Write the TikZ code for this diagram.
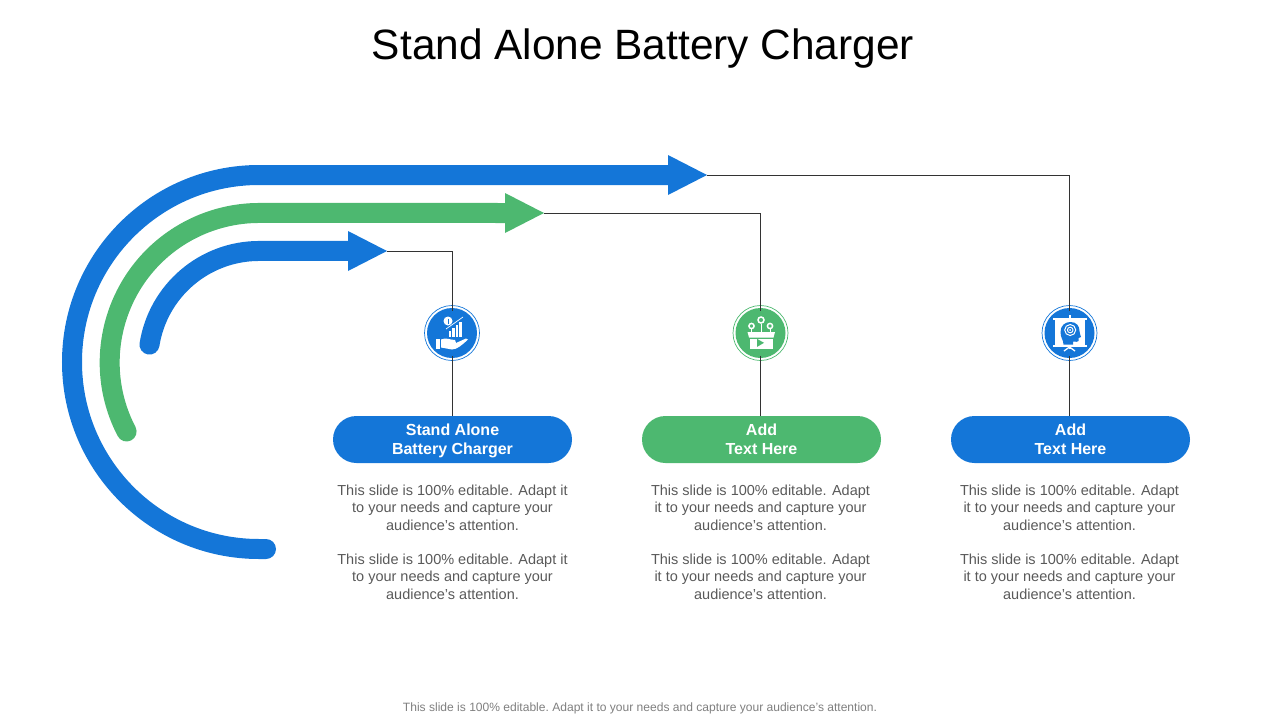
\documentclass[tikz,border=0pt]{standalone}
\usepackage{fontspec}
\setmainfont{Liberation Sans}
\usetikzlibrary{positioning}
\definecolor{chargerBlue}{RGB}{20,118,216}
\definecolor{chargerGreen}{RGB}{77,184,112}
\definecolor{bodyGray}{RGB}{89,89,89}
\definecolor{footGray}{RGB}{127,127,127}
\tikzstyle{slide} = [x = 1pt, y = -1pt, every node/.style={inner sep = 0pt, outer sep = 0pt}]
\tikzstyle{bandLine} = [line width = 20pt, line cap = round]
\tikzstyle{connectLine} = [color=black!80, line width = .7pt]
\tikzstyle{pillStyle} = [minimum width = 239pt, minimum height = 47pt, rounded corners = 23.5pt, text=white, align=center, font=\fontsize{16}{19}\selectfont\bfseries]
\tikzstyle{badgeStyle} = [circle, minimum size = 50pt, text=white]
\tikzstyle{bodyText} = [align=center, text=bodyGray, font=\fontsize{14.5}{17.4}\selectfont]
\newcommand{\bandHead}[3]{\fill [#3] (#1 - 39, #2 - 20) -- (#1, #2) -- (#1 - 39, #2 + 20) -- cycle;}
\newcommand{\badgeRing}[2]{\draw [#2, line width = .7pt] (#1) circle (27.5);}
\newcommand{\pillLabel}[2]{\rule{0pt}{14.6pt}#1\\#2\rule[-3.5pt]{0pt}{1pt}}
% icons are drawn around the centre of the badge
\newcommand{\iconHand}[2]{
  \begin{scope}[shift={(#1)}, white]
    \fill (-4,-12) circle (4.5);
    \draw [#2, line width = .8pt] (-4,-14.5) -- (-4,-9.5);
    \foreach \barX/\barTop in {-2/-2, 1.5/-5, 5/-8, 8.5/-11} {
      \fill (\barX - 1.4, \barTop) rectangle (\barX + 1.4, 4);
    }
    \draw [line width = .7pt] (-6,-4) -- (11,-16);
    \fill (-16,5.5) rectangle (-12,16);
    \fill (-11,6.5) .. controls (-6,4) and (-2,7) .. (3,7) -- (4,10) -- (14,5.5) -- (16,6.5) .. controls (10,12) and (5,16.5) .. (0,16.5) -- (-11,14.5) -- cycle;
  \end{scope}
}
\newcommand{\iconBox}[2]{
  \begin{scope}[shift={(#1)}, white]
    \draw [line width = 1pt] (.5,-9) -- (.5,-1);
    \draw [line width = 1pt] (-9,-4) -- (-9,-1) (9.5,-4) -- (9.5,-1);
    \draw [line width = 1.5pt] (.5,-13) circle (3);
    \draw [line width = 1.5pt] (-9,-7) circle (2.6);
    \draw [line width = 1.5pt] (9.5,-7) circle (2.6);
    \fill (-13,-1) -- (14.5,-1) -- (13,4.5) -- (-11.5,4.5) -- cycle;
    \fill (-10.5,5.5) rectangle (12.5,15.5);
    \fill [#2] (-3.3,6) -- (3.5,9.8) -- (-3.3,13.8) -- cycle;
  \end{scope}
}
\newcommand{\iconTarget}[2]{
  \begin{scope}[shift={(#1)}, white]
    \fill (-1,-18) rectangle (1,-15.5);
    \fill (-17,-15.5) rectangle (17,-13.5);
    \fill (-15,-13.5) rectangle (15,11.5);
    \fill (-17,11.5) rectangle (17,13.5);
    \fill (-1,13.5) rectangle (1,16);
    \draw [line width = 1.3pt] (0,14) -- (-5.5,18) (0,14) -- (5.5,18);
    \fill [#2] (-6,11.5) .. controls (-6,7) and (-9,5) .. (-9,-1) .. controls (-9,-8) and (-4,-11) .. (1,-11) .. controls (7,-11) and (10,-7) .. (10,-2) .. controls (10,0) and (11,2) .. (11.5,4) -- (9,5) -- (9,8) .. controls (8.5,9) and (6,9) .. (3.5,8.5) -- (3.5,11.5) -- cycle;
    \draw [line width = 1pt] (.7,-3) circle (5.5);
    \draw [line width = 1pt] (.7,-3) circle (2.8);
    \fill (.7,-3) circle (1);
  \end{scope}
}
\begin{document}
\begin{tikzpicture}[slide]
  \useasboundingbox (0,0) rectangle (1280,720);
  \node (slideTitle) at (643,49) {\fontsize{42.4}{48}\selectfont Stand Alone Battery Charger};

  % bands
  \draw [bandLine, chargerBlue] (266,549) -- (259,549) arc [start angle = 90, end angle = 270, radius = 187] -- (680,175);
  \draw [bandLine, chargerGreen] (126.6,431.5) arc [start angle = 152.5, end angle = 270, radius = 149.5] -- (520,213);
  \draw [bandLine, chargerBlue] (149.5,344.6) arc [start angle = 189, end angle = 270, radius = 111] -- (360,251);
  \bandHead{707}{175}{chargerBlue}
  \bandHead{544}{213}{chargerGreen}
  \bandHead{387}{251}{chargerBlue}
  \coordinate (tipOne) at (387,251);
  \coordinate (tipTwo) at (544,213);
  \coordinate (tipThree) at (707,175);

  % badges
  \node [badgeStyle, fill=chargerBlue] (badgeOne) at (452,333) {};
  \node [badgeStyle, fill=chargerGreen] (badgeTwo) at (760.5,333) {};
  \node [badgeStyle, fill=chargerBlue] (badgeThree) at (1069.5,333) {};
  \badgeRing{badgeOne}{chargerBlue}
  \badgeRing{badgeTwo}{chargerGreen}
  \badgeRing{badgeThree}{chargerBlue}
  \iconHand{badgeOne}{chargerBlue}
  \iconBox{badgeTwo}{chargerGreen}
  \iconTarget{badgeThree}{chargerBlue}

  % pills
  \node [pillStyle, fill=chargerBlue] (pillOne) at (452.5,439.5) {\pillLabel{Stand Alone}{Battery Charger}};
  \node [pillStyle, fill=chargerGreen] (pillTwo) at (761.5,439.5) {\pillLabel{Add}{Text Here}};
  \node [pillStyle, fill=chargerBlue] (pillThree) at (1070.5,439.5) {\pillLabel{Add}{Text Here}};

  % connectors
  \draw [connectLine] (tipOne) -| ([yshift=-2.5pt]badgeOne.north);
  \draw [connectLine] (tipTwo) -| ([yshift=-2.5pt]badgeTwo.north);
  \draw [connectLine] (tipThree) -| ([yshift=-2.5pt]badgeThree.north);
  \draw [connectLine] ([yshift=2.5pt]badgeOne.south) -- (badgeOne.south |- pillOne.north);
  \draw [connectLine] ([yshift=2.5pt]badgeTwo.south) -- (badgeTwo.south |- pillTwo.north);
  \draw [connectLine] ([yshift=2.5pt]badgeThree.south) -- (badgeThree.south |- pillThree.north);

  % texts
  \node [bodyText] (bodyOneA) at (452.5,507.5) {This slide is 100\% editable. Adapt it\\to your needs and capture your\\audience's attention.};
  \node [bodyText] (bodyOneB) at (452.5,576.5) {This slide is 100\% editable. Adapt it\\to your needs and capture your\\audience's attention.};
  \node [bodyText] (bodyTwoA) at (760.5,507.5) {This slide is 100\% editable. Adapt\\it to your needs and capture your\\audience's attention.};
  \node [bodyText] (bodyTwoB) at (760.5,576.5) {This slide is 100\% editable. Adapt\\it to your needs and capture your\\audience's attention.};
  \node [bodyText] (bodyThreeA) at (1069.5,507.5) {This slide is 100\% editable. Adapt\\it to your needs and capture your\\audience's attention.};
  \node [bodyText] (bodyThreeB) at (1069.5,576.5) {This slide is 100\% editable. Adapt\\it to your needs and capture your\\audience's attention.};
  \node [text=footGray, font=\fontsize{12.05}{14}\selectfont\frenchspacing] (slideFoot) at (640,708.2) {This slide is 100\% editable. Adapt it to your needs and capture your audience's attention.};
\end{tikzpicture}
\end{document}
